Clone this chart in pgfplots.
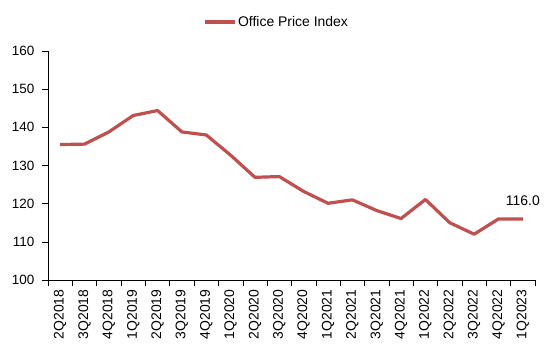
\documentclass[border=0pt]{standalone}
\usepackage{pgfplots}
\pgfplotsset{compat=1.18}
\usepackage{fontspec}
\setmainfont{Liberation Sans}
\definecolor{idxred}{RGB}{192,80,77}
\begin{document}
\begin{tikzpicture}[x=1bp,y=1bp]
% fixed page frame around the plot area
\path[use as bounding box] (-48bp,-71bp) rectangle (502bp,280bp);
\begin{axis}[
  at={(0,0)}, anchor=south west,
  scale only axis,
  width=487bp, height=229bp,
  xmin=-0.5, xmax=19.5,
  ymin=100, ymax=160,
  ytick={100,110,...,160},
  xtick={-0.5,0.5,...,19.5},
  x tick label as interval,
  xticklabels={2Q2018,3Q2018,4Q2018,1Q2019,2Q2019,3Q2019,4Q2019,1Q2020,2Q2020,3Q2020,4Q2020,1Q2021,2Q2021,3Q2021,4Q2021,1Q2022,2Q2022,3Q2022,4Q2022,1Q2023},
  x tick label style={rotate=90, anchor=east, inner xsep=0pt, xshift=-3.3bp,
    font=\fontsize{14}{16}\selectfont},
  y tick label style={inner xsep=0pt, xshift=-7.5bp, font=\fontsize{13.5}{16}\selectfont},
  /pgf/number format/assume math mode=true,
  axis x line*=bottom, axis y line*=left,
  tick align=outside,
  major tick length=6bp,
  tick style={black, line width=0.6pt},
  axis line style={black, line width=0.7pt},
  legend style={at={(0.3177,1.1266)}, anchor=west, draw=none, inner xsep=0pt,
    font=\fontsize{14}{16}\selectfont, legend columns=1,
    /tikz/every even column/.append style={column sep=0pt}},
  legend image code/.code={\draw[#1, line width=3.2bp] (0bp,0bp) -- (30bp,0bp);},
  clip=false,
]
\addplot[idxred, line width=3.2bp, line join=round] coordinates {
  (0,135.5) (1,135.6) (2,138.8) (3,143.1) (4,144.4) (5,138.8) (6,138.0)
  (7,132.7) (8,126.9) (9,127.1) (10,123.2) (11,120.1) (12,121.0) (13,118.2)
  (14,116.1) (15,121.1) (16,115.0) (17,112.0) (18,116.0) (19,116.0)
};
\addlegendentry{Office Price Index}
\node[font=\fontsize{14}{16}\selectfont, anchor=center] at (axis cs:19,120.7) {116.0};
\end{axis}
\end{tikzpicture}
\end{document}
